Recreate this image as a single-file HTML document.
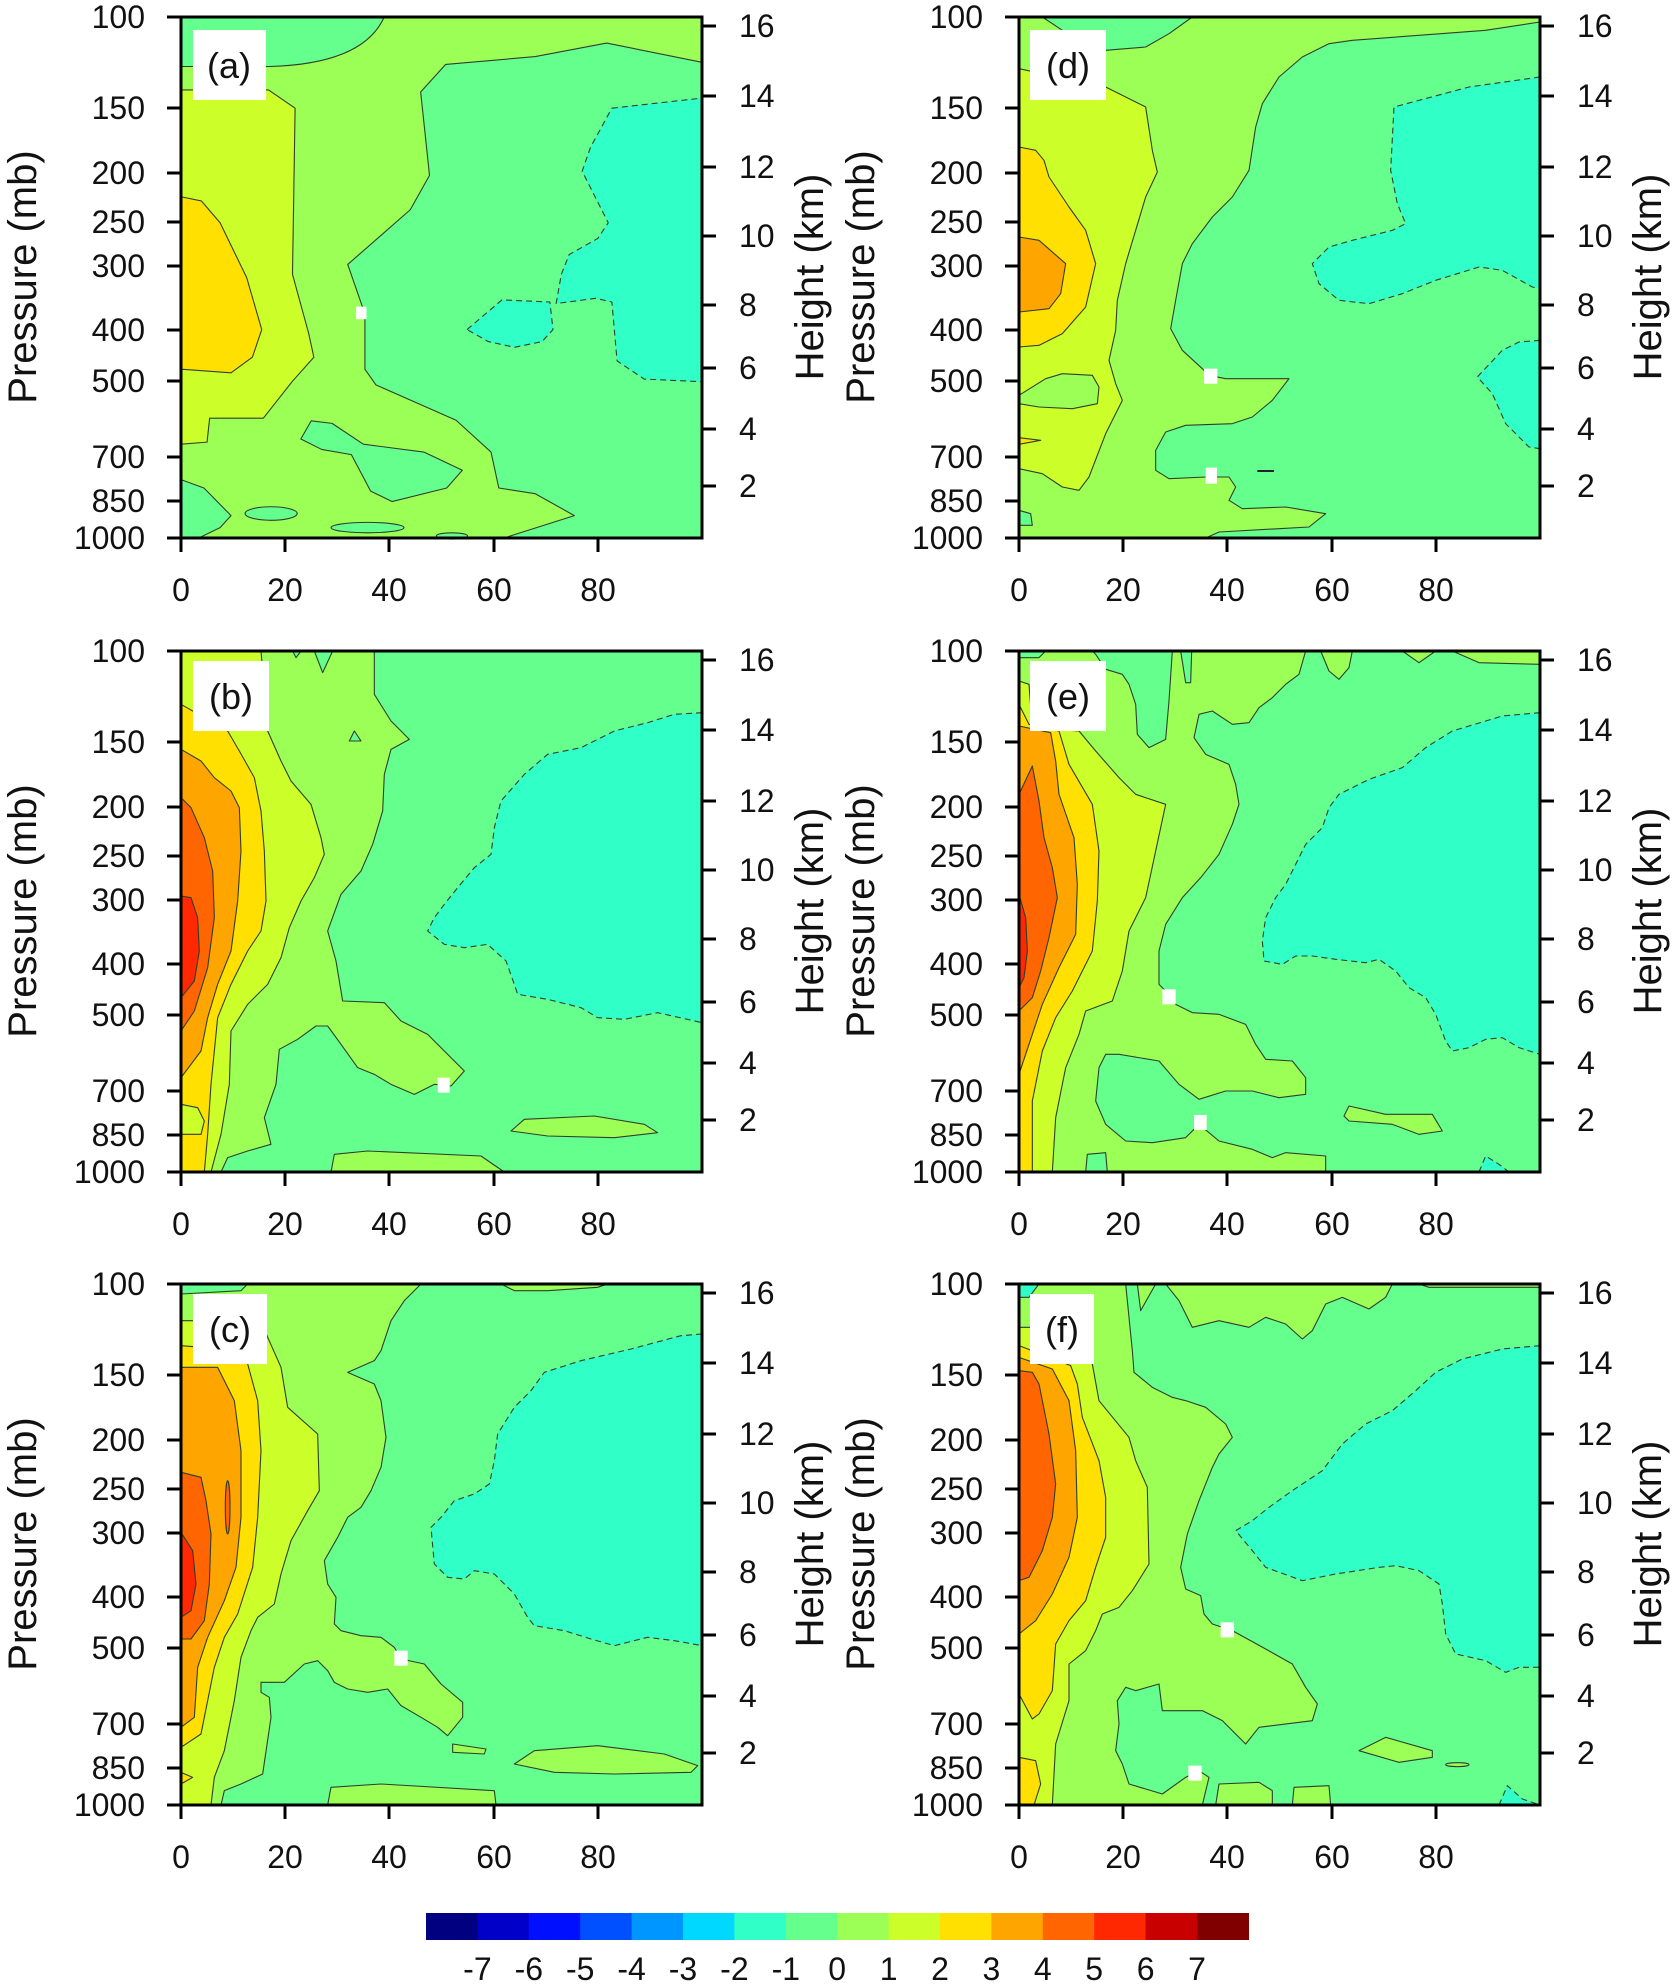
<!DOCTYPE html>
<html><head><meta charset="utf-8">
<style>
html,body{margin:0;padding:0;background:#fff;}
svg{display:block;font-family:"Liberation Sans",sans-serif;}
.l{stroke:#2f3f2f;stroke-width:1.1;vector-effect:non-scaling-stroke;stroke-linejoin:round}
.d{stroke-dasharray:6 4}
.g0{fill:#64ff8c}.g1{fill:#9cff55}.g2{fill:#ccff2a}.y3{fill:#ffe000}.o4{fill:#ffa500}.o5{fill:#ff6500}.r6{fill:#ff2800}.t{fill:#30ffc8}
.tk{font-size:32px;fill:#111}
.ti{font-size:40px;fill:#111}
.lb{font-size:36px;fill:#111}
</style></head><body>
<svg width="1675" height="1985" viewBox="0 0 1675 1985" xmlns="http://www.w3.org/2000/svg">
<rect width="1675" height="1985" fill="#fff"/>

<!-- Panel a -->
<g transform="translate(181,17) scale(5.21)">
<rect width="100" height="100" class="g1"/>
<path class="g0 l" d="M0,0 L39,0 Q35,9 17,9.5 L0,9.5 Z"/>
<path class="g0 l" d="M100,8.7 L81.7,5 L68,7.6 L50.8,9.1 L46,14.4 L47.7,30.4 L44,37 L32,47.5 L35.3,57 L35.3,67.6 L37.4,70.6 L52.8,77.4 L59.5,83.5 L61,90.4 L68,91.5 L75.5,95.7 L62,100 L100,100 Z"/>
<path class="g0 l" d="M25,77.5 L29,78 L35,82 L46.6,83.5 L54,87 L51,90.4 L40.5,93 L36.4,91 L32.7,84 L27,83 L23,81 Z"/>
<path class="g0 l" d="M0,88.8 L4.4,90.4 L9.6,95.7 L7.5,98 L3.4,100 L0,100 Z"/>
<ellipse class="g0 l" cx="17.3" cy="95.3" rx="5" ry="1.3"/>
<ellipse class="g0 l" cx="35.8" cy="98" rx="7" ry="1"/>
<ellipse class="g0 l" cx="52" cy="99.6" rx="3" ry="0.6"/>
<path class="t l d" d="M82.7,17.5 L99.7,15.6 L100,15.6 L100,70 L88.9,69.5 L83.7,66 L82.7,54.7 L79.6,54 L72,55 L73,49.4 L74.5,45.6 L80,42.5 L82,39.5 L77,29.6 L78.6,25 Z"/>
<path class="t l d" d="M54.9,60 L61.6,54.3 L70.8,54.7 L71.4,60 L69.3,62.3 L64,63.4 L59,62.3 Z"/>
<path class="g2 l" d="M0,14 L16.8,14 L21.9,17.5 L21.4,49.4 L24.5,60.7 L25.5,65.3 L21.4,69.9 L15.8,77 L5.5,77 L5,81.6 L0,82 Z"/>
<path class="y3 l" d="M0,34.5 L3.9,35.3 L7.5,39.5 L12.6,50 L15.5,60 L13.7,65.3 L9.6,68.3 L0,67.6 Z"/>
<rect x="33.6" y="55.6" width="2" height="2.4" fill="#fff"/>
</g>

<!-- Panel b -->
<g transform="translate(181,651) scale(0.33333)">
<rect width="1563" height="1563" class="g0"/>
<path class="g1 l" d="M0,0 L580,0 L580,130 L630,210 L685,265 L630,295 L610,370 L605,480 L575,580 L540,660 L480,730 L440,840 L465,930 L485,1050 L610,1055 L660,1110 L740,1150 L800,1210 L850,1260 L810,1305 L760,1300 L700,1330 L630,1300 L580,1270 L530,1250 L480,1180 L440,1125 L405,1125 L350,1165 L295,1195 L285,1300 L250,1400 L270,1480 L200,1500 L140,1520 L120,1563 L0,1563 Z"/>
<path class="g0 l" d="M335,0 L345,20 L360,0 Z M400,0 L425,65 L455,0 Z M520,240 L505,270 L540,270 Z"/>
<path class="g1 l" d="M450,1563 L460,1510 L560,1500 L900,1515 L970,1563 Z"/>
<path class="g1 l" d="M990,1440 L1030,1405 L1240,1395 L1390,1420 L1430,1445 L1300,1460 L1100,1455 Z"/>
<path class="g2 l" d="M0,0 L240,0 L260,240 L300,330 L330,390 L390,460 L420,560 L430,610 L400,680 L360,750 L325,830 L300,920 L260,1000 L200,1060 L150,1140 L145,1300 L120,1450 L90,1563 L0,1563 Z"/>
<path class="y3 l" d="M0,160 L140,240 L175,300 L220,380 L240,480 L250,600 L255,750 L240,840 L200,900 L150,1000 L110,1100 L90,1300 L80,1450 L70,1563 L0,1563 Z"/>
<path class="g2 l" d="M0,1360 L50,1370 L70,1410 L60,1450 L0,1450 Z"/>
<path class="o4 l" d="M0,295 L60,330 L100,380 L150,420 L175,470 L180,600 L170,750 L150,900 L110,1000 L80,1100 L60,1200 L0,1280 Z"/>
<path class="o5 l" d="M0,440 L30,470 L70,560 L95,660 L100,800 L80,950 L40,1080 L0,1140 Z"/>
<path class="r6 l" d="M0,735 L30,740 L50,800 L55,900 L40,990 L0,1040 Z"/>
<path class="t l d" d="M1563,185 L1480,190 L1400,215 L1300,240 L1200,290 L1100,310 L1030,370 L960,450 L940,530 L930,610 L880,650 L830,710 L790,760 L760,800 L740,840 L790,880 L850,890 L920,880 L975,930 L1000,1000 L1010,1030 L1100,1045 L1200,1070 L1250,1100 L1330,1105 L1430,1085 L1563,1115 Z"/>
<rect x="770" y="1280" width="36" height="45" fill="#fff"/>
</g>

<!-- Panel c -->
<g transform="translate(181,1284) scale(0.33333)">
<rect width="1563" height="1563" class="g0"/>
<path class="g1 l" d="M0,30 L180,20 L200,0 L720,0 L670,50 L630,110 L600,200 L580,230 L500,265 L580,300 L600,350 L615,460 L600,550 L570,620 L540,670 L500,700 L470,760 L430,830 L440,900 L465,940 L460,1020 L480,1040 L540,1055 L600,1060 L640,1090 L660,1125 L730,1140 L780,1200 L845,1255 L845,1300 L800,1355 L770,1330 L720,1300 L660,1265 L620,1215 L560,1225 L500,1215 L460,1195 L440,1160 L410,1130 L370,1140 L310,1195 L240,1195 L240,1225 L265,1240 L270,1300 L245,1470 L180,1500 L130,1520 L120,1563 L0,1563 Z"/>
<path class="g1 l" d="M960,0 L1000,20 L1100,20 L1250,10 L1280,0 Z"/>
<path class="g1 l" d="M440,1563 L450,1510 L600,1500 L940,1520 L945,1563 Z"/>
<path class="g1 l" d="M1000,1440 L1060,1400 L1250,1385 L1450,1410 L1550,1445 L1530,1465 L1300,1470 L1120,1465 Z"/>
<path class="g1 l" d="M815,1380 L915,1395 L910,1410 L815,1405 Z"/>
<path class="g2 l" d="M0,110 L240,110 L260,160 L300,250 L320,370 L410,450 L415,620 L380,680 L330,770 L300,870 L280,960 L230,1000 L210,1040 L180,1120 L160,1250 L130,1400 L100,1480 L90,1563 L0,1563 Z"/>
<path class="y3 l" d="M0,185 L190,200 L200,240 L230,350 L240,500 L230,700 L215,850 L170,990 L130,1060 L100,1150 L80,1250 L60,1350 L0,1390 Z"/>
<path class="o4 l" d="M0,250 L110,250 L160,350 L180,500 L180,700 L165,850 L130,950 L80,1060 L50,1150 L40,1300 L0,1330 Z"/>
<path class="o5 l" d="M0,565 L60,580 L75,650 L90,750 L85,900 L70,1010 L30,1065 L0,1065 Z"/>
<path class="r6 l" d="M0,745 L35,800 L45,900 L30,980 L0,1000 Z"/>
<ellipse class="o5 l" cx="140" cy="670" rx="7" ry="80"/>
<path class="y3 l" d="M0,1465 L35,1480 L0,1500 Z"/>
<path class="t l d" d="M1563,150 L1500,155 L1350,195 L1200,230 L1090,265 L1050,320 L1000,370 L950,450 L940,530 L925,600 L880,630 L820,650 L780,700 L750,730 L760,840 L800,880 L850,885 L880,860 L940,870 L1000,930 L1040,1000 L1060,1025 L1150,1040 L1230,1065 L1300,1085 L1400,1060 L1480,1070 L1563,1085 Z"/>
<rect x="640" y="1100" width="40" height="45" fill="#fff"/>
</g>

<!-- Panel d -->
<g transform="translate(1019,17) scale(0.33333)">
<rect width="1563" height="1563" class="g1"/>
<path class="g0 l" d="M70,0 L130,40 L260,100 L380,90 L450,50 L520,0 Z"/>
<path class="g0 l" d="M1563,15 L1400,40 L1200,55 L1000,70 L930,80 L850,120 L780,180 L730,260 L710,330 L690,460 L640,540 L580,600 L520,680 L490,740 L470,850 L455,935 L490,1000 L550,1055 L570,1075 L620,1085 L810,1085 L760,1150 L700,1200 L640,1220 L500,1225 L440,1245 L410,1300 L410,1360 L450,1385 L560,1380 L630,1380 L650,1410 L630,1450 L670,1475 L800,1470 L920,1490 L870,1530 L780,1535 L600,1545 L560,1563 L1563,1563 Z"/>
<path class="g0 l" d="M0,1480 L35,1490 L40,1525 L0,1525 Z"/>
<path class="g2 l" d="M0,155 L260,210 L380,270 L400,400 L415,465 L380,540 L350,640 L320,740 L295,850 L290,940 L270,1030 L290,1100 L310,1150 L260,1250 L210,1380 L180,1420 L130,1410 L70,1370 L0,1355 Z"/>
<path class="g1 l" d="M0,1135 L80,1085 L130,1070 L220,1075 L240,1110 L235,1160 L160,1175 L60,1170 L0,1160 Z"/>
<path class="y3 l" d="M0,1262 L65,1270 L0,1282 Z"/>
<path class="y3 l" d="M0,390 L50,400 L75,430 L90,480 L150,570 L200,640 L230,740 L200,870 L130,950 L60,985 L0,990 Z"/>
<path class="o4 l" d="M0,660 L60,670 L140,740 L125,830 L90,875 L0,885 Z"/>
<path class="t l d" d="M1563,180 L1350,210 L1200,250 L1125,270 L1115,460 L1135,560 L1160,620 L1120,640 L1000,670 L930,690 L880,740 L900,800 L960,850 L1050,860 L1150,830 L1250,790 L1380,750 L1450,760 L1540,810 L1563,815 Z"/>
<path class="t l d" d="M1563,970 L1500,975 L1450,1000 L1375,1080 L1420,1130 L1460,1220 L1530,1290 L1563,1295 Z"/>
<path d="M715,1362 L765,1362" stroke="#223" stroke-width="2" vector-effect="non-scaling-stroke"/>
<rect x="555" y="1055" width="40" height="45" fill="#fff"/>
<rect x="560" y="1352" width="34" height="48" fill="#fff"/>
</g>

<!-- Panel e -->
<g transform="translate(1019,651) scale(0.33333)">
<rect width="1563" height="1563" class="g1"/>
<path class="g0 l" d="M0,0 L80,0 L60,20 L0,20 Z"/>
<path class="g0 l" d="M220,0 L230,10 L260,55 L310,70 L330,100 L350,160 L355,250 L390,290 L440,265 L450,150 L460,0 Z"/>
<path class="g0 l" d="M485,0 L500,95 L515,95 L518,0 Z"/>
<path class="g0 l" d="M860,0 L840,70 L800,100 L760,140 L720,170 L690,215 L640,220 L580,180 L540,190 L525,260 L560,310 L630,340 L650,400 L660,460 L640,520 L600,610 L545,680 L490,740 L440,820 L420,900 L420,1000 L450,1030 L470,1060 L520,1085 L600,1090 L680,1120 L710,1180 L740,1225 L820,1230 L860,1280 L860,1330 L780,1340 L700,1320 L620,1320 L540,1345 L480,1300 L420,1230 L300,1210 L260,1210 L240,1250 L230,1350 L260,1420 L320,1470 L400,1475 L500,1460 L540,1420 L600,1470 L700,1495 L760,1520 L800,1505 L920,1515 L920,1563 L1563,1563 L1563,40 L1380,35 L1300,0 Z"/>
<path class="g1 l" d="M905,0 L930,60 L960,85 L990,50 L1000,0 Z"/>
<path class="g1 l" d="M1150,0 L1200,35 L1250,0 Z"/>
<path class="g1 l" d="M975,1395 L990,1365 L1100,1390 L1240,1390 L1270,1440 L1200,1450 L1120,1420 L990,1410 Z"/>
<path class="g0 l" d="M200,1563 L205,1510 L260,1505 L265,1563 Z"/>
<path class="g2 l" d="M0,90 L30,100 L40,230 L180,240 L230,300 L300,380 L350,430 L440,460 L410,600 L380,740 L330,840 L310,960 L280,1050 L200,1080 L180,1150 L140,1250 L110,1400 L100,1563 L0,1563 Z"/>
<path class="y3 l" d="M0,160 L30,220 L120,240 L150,340 L220,460 L240,600 L235,750 L220,900 L160,1020 L110,1100 L70,1200 L40,1350 L40,1563 L0,1563 Z"/>
<path class="o4 l" d="M0,225 L95,245 L110,330 L120,430 L165,560 L175,700 L170,850 L120,950 L70,1060 L40,1150 L0,1270 Z"/>
<path class="o5 l" d="M0,430 L40,345 L60,450 L75,560 L100,650 L115,740 L90,860 L65,960 L40,1040 L0,1080 Z"/>
<path class="r6 l" d="M0,730 L20,800 L25,900 L15,980 L0,1010 Z"/>
<path class="t l d" d="M1563,185 L1450,195 L1300,240 L1220,290 L1150,350 L1050,385 L960,430 L930,470 L910,530 L860,580 L830,640 L800,700 L770,740 L740,800 L730,870 L735,930 L790,940 L830,915 L880,915 L950,925 L1040,935 L1080,925 L1130,960 L1170,1010 L1220,1040 L1250,1090 L1280,1170 L1300,1200 L1350,1190 L1400,1165 L1450,1160 L1500,1190 L1563,1210 Z"/>
<path class="t l d" d="M1380,1563 L1400,1515 L1440,1540 L1470,1563 Z"/>
<rect x="430" y="1015" width="40" height="45" fill="#fff"/>
<rect x="525" y="1392" width="38" height="45" fill="#fff"/>
</g>

<!-- Panel f -->
<g transform="translate(1019,1284) scale(0.33333)">
<rect width="1563" height="1563" class="g1"/>
<path class="t l" d="M0,0 L60,0 L30,40 L0,40 Z"/>
<path class="g0 l" d="M320,0 L345,0 L440,0 L480,50 L520,130 L600,110 L690,130 L740,100 L800,120 L850,165 L880,140 L920,60 L970,40 L1050,75 L1100,40 L1120,0 L1200,0 L1230,10 L1563,10 L1563,1563 L760,1563 L760,1520 L720,1495 L600,1500 L590,1563 L550,1563 L570,1480 L540,1460 L500,1480 L430,1530 L330,1500 L310,1440 L290,1400 L300,1320 L295,1250 L320,1210 L350,1220 L420,1200 L430,1280 L490,1280 L550,1280 L610,1310 L680,1380 L720,1330 L880,1310 L895,1260 L860,1210 L820,1140 L740,1095 L640,1040 L580,1020 L555,990 L545,935 L500,915 L485,850 L505,750 L540,650 L580,550 L600,510 L640,460 L620,420 L560,370 L500,350 L460,340 L400,310 L345,265 L340,200 Z"/>
<path class="g1 l" d="M355,0 L365,80 L410,0 Z"/>
<path class="g1 l" d="M820,1563 L825,1510 L930,1505 L935,1563 Z"/>
<path class="g1 l" d="M1020,1400 L1100,1360 L1240,1400 L1240,1420 L1140,1435 Z"/>
<ellipse class="g1 l" cx="1315" cy="1442" rx="35" ry="6"/>
<path class="t l d" d="M1440,1563 L1465,1505 L1510,1545 L1563,1563 Z"/>
<path class="g2 l" d="M0,130 L200,130 L220,240 L240,350 L330,460 L350,530 L385,610 L390,840 L340,920 L300,970 L250,990 L230,1040 L200,1100 L150,1140 L150,1250 L110,1380 L100,1563 L0,1563 Z"/>
<path class="y3 l" d="M0,185 L155,245 L175,300 L190,400 L240,530 L260,640 L260,760 L230,850 L200,950 L150,1010 L110,1080 L100,1220 L60,1290 L40,1305 L0,1230 Z"/>
<path class="y3 l" d="M0,1420 L50,1430 L65,1500 L45,1563 L0,1563 Z"/>
<path class="o4 l" d="M0,220 L100,255 L150,350 L170,500 L175,700 L150,820 L100,930 L50,1010 L0,1050 Z"/>
<path class="o5 l" d="M0,260 L40,265 L60,300 L90,450 L110,600 L100,700 L70,800 L30,880 L0,890 Z"/>
<path class="t l d" d="M1563,185 L1450,195 L1330,225 L1250,265 L1190,320 L1120,380 L1040,420 L970,480 L910,560 L820,620 L750,670 L700,710 L650,740 L700,800 L740,850 L850,890 L950,870 L1080,850 L1130,845 L1200,860 L1260,900 L1270,960 L1280,1050 L1310,1110 L1400,1130 L1460,1165 L1500,1150 L1563,1150 Z"/>
<rect x="605" y="1015" width="40" height="45" fill="#fff"/>
<rect x="508" y="1445" width="40" height="45" fill="#fff"/>
</g>

<!-- Label boxes -->
<g class="lb">
<rect x="193" y="30" width="73" height="70" fill="#fff"/><text x="229" y="78" text-anchor="middle">(a)</text>
<rect x="193" y="661" width="76" height="70" fill="#fff"/><text x="231" y="709" text-anchor="middle">(b)</text>
<rect x="193" y="1294" width="74" height="70" fill="#fff"/><text x="230" y="1342" text-anchor="middle">(c)</text>
<rect x="1030" y="30" width="76" height="70" fill="#fff"/><text x="1068" y="78" text-anchor="middle">(d)</text>
<rect x="1030" y="661" width="76" height="70" fill="#fff"/><text x="1068" y="709" text-anchor="middle">(e)</text>
<rect x="1030" y="1294" width="64" height="70" fill="#fff"/><text x="1062" y="1342" text-anchor="middle">(f)</text>
</g>

<!-- Axes -->
<g>
<g transform="translate(181,17)">
<rect width="521" height="521" fill="none" stroke="#000" stroke-width="3"/>
<path d="M0,0h-14M0,91h-14M0,156h-14M0,205h-14M0,249h-14M0,313h-14M0,364h-14M0,440h-14M0,484h-14M0,521h-14 M521,9h14M521,79h14M521,150h14M521,219h14M521,288h14M521,351h14M521,412h14M521,469h14 M0,521v14M104,521v14M208,521v14M313,521v14M417,521v14" stroke="#000" stroke-width="3"/>
<g class="tk" text-anchor="end"><text x="-36" y="11">100</text><text x="-36" y="102">150</text><text x="-36" y="167">200</text><text x="-36" y="216">250</text><text x="-36" y="260">300</text><text x="-36" y="324">400</text><text x="-36" y="375">500</text><text x="-36" y="451">700</text><text x="-36" y="495">850</text><text x="-36" y="532">1000</text></g>
<g class="tk"><text x="558" y="20">16</text><text x="558" y="90">14</text><text x="558" y="161">12</text><text x="558" y="230">10</text><text x="558" y="299">8</text><text x="558" y="362">6</text><text x="558" y="423">4</text><text x="558" y="480">2</text></g>
<g class="tk" text-anchor="middle"><text x="0" y="584">0</text><text x="104" y="584">20</text><text x="208" y="584">40</text><text x="313" y="584">60</text><text x="417" y="584">80</text></g>
<text class="ti" transform="translate(-145,260) rotate(-90)" text-anchor="middle">Pressure (mb)</text>
<text class="ti" transform="translate(642,260) rotate(-90)" text-anchor="middle">Height (km)</text>
</g>
<g transform="translate(181,651)">
<rect width="521" height="521" fill="none" stroke="#000" stroke-width="3"/>
<path d="M0,0h-14M0,91h-14M0,156h-14M0,205h-14M0,249h-14M0,313h-14M0,364h-14M0,440h-14M0,484h-14M0,521h-14 M521,9h14M521,79h14M521,150h14M521,219h14M521,288h14M521,351h14M521,412h14M521,469h14 M0,521v14M104,521v14M208,521v14M313,521v14M417,521v14" stroke="#000" stroke-width="3"/>
<g class="tk" text-anchor="end"><text x="-36" y="11">100</text><text x="-36" y="102">150</text><text x="-36" y="167">200</text><text x="-36" y="216">250</text><text x="-36" y="260">300</text><text x="-36" y="324">400</text><text x="-36" y="375">500</text><text x="-36" y="451">700</text><text x="-36" y="495">850</text><text x="-36" y="532">1000</text></g>
<g class="tk"><text x="558" y="20">16</text><text x="558" y="90">14</text><text x="558" y="161">12</text><text x="558" y="230">10</text><text x="558" y="299">8</text><text x="558" y="362">6</text><text x="558" y="423">4</text><text x="558" y="480">2</text></g>
<g class="tk" text-anchor="middle"><text x="0" y="584">0</text><text x="104" y="584">20</text><text x="208" y="584">40</text><text x="313" y="584">60</text><text x="417" y="584">80</text></g>
<text class="ti" transform="translate(-145,260) rotate(-90)" text-anchor="middle">Pressure (mb)</text>
<text class="ti" transform="translate(642,260) rotate(-90)" text-anchor="middle">Height (km)</text>
</g>
<g transform="translate(181,1284)">
<rect width="521" height="521" fill="none" stroke="#000" stroke-width="3"/>
<path d="M0,0h-14M0,91h-14M0,156h-14M0,205h-14M0,249h-14M0,313h-14M0,364h-14M0,440h-14M0,484h-14M0,521h-14 M521,9h14M521,79h14M521,150h14M521,219h14M521,288h14M521,351h14M521,412h14M521,469h14 M0,521v14M104,521v14M208,521v14M313,521v14M417,521v14" stroke="#000" stroke-width="3"/>
<g class="tk" text-anchor="end"><text x="-36" y="11">100</text><text x="-36" y="102">150</text><text x="-36" y="167">200</text><text x="-36" y="216">250</text><text x="-36" y="260">300</text><text x="-36" y="324">400</text><text x="-36" y="375">500</text><text x="-36" y="451">700</text><text x="-36" y="495">850</text><text x="-36" y="532">1000</text></g>
<g class="tk"><text x="558" y="20">16</text><text x="558" y="90">14</text><text x="558" y="161">12</text><text x="558" y="230">10</text><text x="558" y="299">8</text><text x="558" y="362">6</text><text x="558" y="423">4</text><text x="558" y="480">2</text></g>
<g class="tk" text-anchor="middle"><text x="0" y="584">0</text><text x="104" y="584">20</text><text x="208" y="584">40</text><text x="313" y="584">60</text><text x="417" y="584">80</text></g>
<text class="ti" transform="translate(-145,260) rotate(-90)" text-anchor="middle">Pressure (mb)</text>
<text class="ti" transform="translate(642,260) rotate(-90)" text-anchor="middle">Height (km)</text>
</g>
<g transform="translate(1019,17)">
<rect width="521" height="521" fill="none" stroke="#000" stroke-width="3"/>
<path d="M0,0h-14M0,91h-14M0,156h-14M0,205h-14M0,249h-14M0,313h-14M0,364h-14M0,440h-14M0,484h-14M0,521h-14 M521,9h14M521,79h14M521,150h14M521,219h14M521,288h14M521,351h14M521,412h14M521,469h14 M0,521v14M104,521v14M208,521v14M313,521v14M417,521v14" stroke="#000" stroke-width="3"/>
<g class="tk" text-anchor="end"><text x="-36" y="11">100</text><text x="-36" y="102">150</text><text x="-36" y="167">200</text><text x="-36" y="216">250</text><text x="-36" y="260">300</text><text x="-36" y="324">400</text><text x="-36" y="375">500</text><text x="-36" y="451">700</text><text x="-36" y="495">850</text><text x="-36" y="532">1000</text></g>
<g class="tk"><text x="558" y="20">16</text><text x="558" y="90">14</text><text x="558" y="161">12</text><text x="558" y="230">10</text><text x="558" y="299">8</text><text x="558" y="362">6</text><text x="558" y="423">4</text><text x="558" y="480">2</text></g>
<g class="tk" text-anchor="middle"><text x="0" y="584">0</text><text x="104" y="584">20</text><text x="208" y="584">40</text><text x="313" y="584">60</text><text x="417" y="584">80</text></g>
<text class="ti" transform="translate(-145,260) rotate(-90)" text-anchor="middle">Pressure (mb)</text>
<text class="ti" transform="translate(642,260) rotate(-90)" text-anchor="middle">Height (km)</text>
</g>
<g transform="translate(1019,651)">
<rect width="521" height="521" fill="none" stroke="#000" stroke-width="3"/>
<path d="M0,0h-14M0,91h-14M0,156h-14M0,205h-14M0,249h-14M0,313h-14M0,364h-14M0,440h-14M0,484h-14M0,521h-14 M521,9h14M521,79h14M521,150h14M521,219h14M521,288h14M521,351h14M521,412h14M521,469h14 M0,521v14M104,521v14M208,521v14M313,521v14M417,521v14" stroke="#000" stroke-width="3"/>
<g class="tk" text-anchor="end"><text x="-36" y="11">100</text><text x="-36" y="102">150</text><text x="-36" y="167">200</text><text x="-36" y="216">250</text><text x="-36" y="260">300</text><text x="-36" y="324">400</text><text x="-36" y="375">500</text><text x="-36" y="451">700</text><text x="-36" y="495">850</text><text x="-36" y="532">1000</text></g>
<g class="tk"><text x="558" y="20">16</text><text x="558" y="90">14</text><text x="558" y="161">12</text><text x="558" y="230">10</text><text x="558" y="299">8</text><text x="558" y="362">6</text><text x="558" y="423">4</text><text x="558" y="480">2</text></g>
<g class="tk" text-anchor="middle"><text x="0" y="584">0</text><text x="104" y="584">20</text><text x="208" y="584">40</text><text x="313" y="584">60</text><text x="417" y="584">80</text></g>
<text class="ti" transform="translate(-145,260) rotate(-90)" text-anchor="middle">Pressure (mb)</text>
<text class="ti" transform="translate(642,260) rotate(-90)" text-anchor="middle">Height (km)</text>
</g>
<g transform="translate(1019,1284)">
<rect width="521" height="521" fill="none" stroke="#000" stroke-width="3"/>
<path d="M0,0h-14M0,91h-14M0,156h-14M0,205h-14M0,249h-14M0,313h-14M0,364h-14M0,440h-14M0,484h-14M0,521h-14 M521,9h14M521,79h14M521,150h14M521,219h14M521,288h14M521,351h14M521,412h14M521,469h14 M0,521v14M104,521v14M208,521v14M313,521v14M417,521v14" stroke="#000" stroke-width="3"/>
<g class="tk" text-anchor="end"><text x="-36" y="11">100</text><text x="-36" y="102">150</text><text x="-36" y="167">200</text><text x="-36" y="216">250</text><text x="-36" y="260">300</text><text x="-36" y="324">400</text><text x="-36" y="375">500</text><text x="-36" y="451">700</text><text x="-36" y="495">850</text><text x="-36" y="532">1000</text></g>
<g class="tk"><text x="558" y="20">16</text><text x="558" y="90">14</text><text x="558" y="161">12</text><text x="558" y="230">10</text><text x="558" y="299">8</text><text x="558" y="362">6</text><text x="558" y="423">4</text><text x="558" y="480">2</text></g>
<g class="tk" text-anchor="middle"><text x="0" y="584">0</text><text x="104" y="584">20</text><text x="208" y="584">40</text><text x="313" y="584">60</text><text x="417" y="584">80</text></g>
<text class="ti" transform="translate(-145,260) rotate(-90)" text-anchor="middle">Pressure (mb)</text>
<text class="ti" transform="translate(642,260) rotate(-90)" text-anchor="middle">Height (km)</text>
</g>
</g>

<!-- Colorbar -->
<g transform="translate(426,1913)">
<rect x="0" width="52" height="27" fill="#000080"/>
<rect x="51.4" width="52" height="27" fill="#0000c8"/>
<rect x="102.8" width="52" height="27" fill="#0010ff"/>
<rect x="154.2" width="52" height="27" fill="#0050ff"/>
<rect x="205.6" width="52" height="27" fill="#0096ff"/>
<rect x="257" width="52" height="27" fill="#00d8ff"/>
<rect x="308.4" width="52" height="27" fill="#30ffc8"/>
<rect x="359.8" width="52" height="27" fill="#64ff8c"/>
<rect x="411.2" width="52" height="27" fill="#9cff55"/>
<rect x="462.6" width="52" height="27" fill="#ccff2a"/>
<rect x="514" width="52" height="27" fill="#ffe000"/>
<rect x="565.4" width="52" height="27" fill="#ffa500"/>
<rect x="616.8" width="52" height="27" fill="#ff6500"/>
<rect x="668.2" width="52" height="27" fill="#ff2800"/>
<rect x="719.6" width="52" height="27" fill="#c80000"/>
<rect x="771" width="52" height="27" fill="#800000"/>
<g class="tk" text-anchor="middle">
<text x="51.4" y="67">-7</text><text x="102.8" y="67">-6</text><text x="154.2" y="67">-5</text><text x="205.6" y="67">-4</text><text x="257" y="67">-3</text><text x="308.4" y="67">-2</text><text x="359.8" y="67">-1</text><text x="411.2" y="67">0</text><text x="462.6" y="67">1</text><text x="514" y="67">2</text><text x="565.4" y="67">3</text><text x="616.8" y="67">4</text><text x="668.2" y="67">5</text><text x="719.6" y="67">6</text><text x="771" y="67">7</text>
</g>
</g>
</svg>
</body></html>
